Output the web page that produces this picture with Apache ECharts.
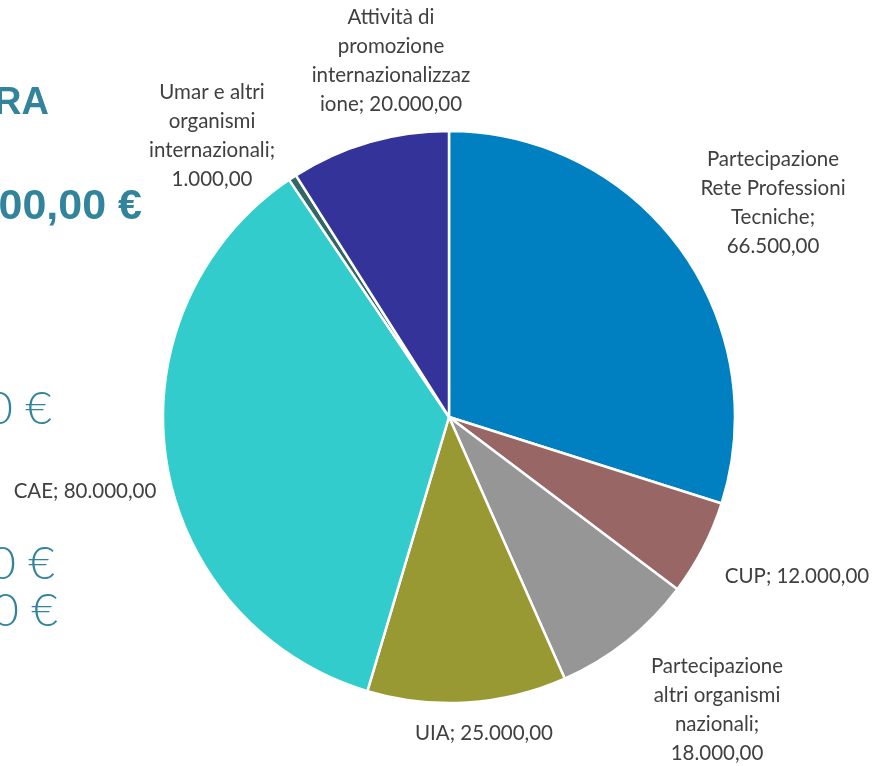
<!DOCTYPE html>
<html><head><meta charset="utf-8">
<script src="https://cdn.jsdelivr.net/npm/echarts@6/dist/echarts.min.js"></script>
<style>html,body{margin:0;padding:0;background:#fff}#c{width:876px;height:766px}</style>
</head><body><div id="c"></div>
<script>
const categories = [
  "Partecipazione Rete Professioni Tecniche",
  "CUP",
  "Partecipazione altri organismi nazionali",
  "UIA",
  "CAE",
  "Umar e altri organismi internazionali",
  "Attività di promozione internazionalizzazione"
];
const values = [66500, 12000, 18000, 25000, 80000, 1000, 20000];
// label text as wrapped in the reference ("|" marks where the value goes on its own line)
const labelNames = [
  "Partecipazione\nRete Professioni\nTecniche;|",
  "CUP; ",
  "Partecipazione\naltri organismi\nnazionali;|",
  "UIA; ",
  "CAE; ",
  "Umar e altri\norganismi\ninternazionali;|",
  "Attività di\npromozione\ninternazionalizzaz\nione; "
];
const colors = ["#0080C0", "#996666", "#969696", "#999933", "#33CCCC", "#336666", "#333399"];
const labelPos = [[773, 203], [797, 576], [717, 710], [484, 733], [85, 491], [212, 136], [391, 61]];

function fmt(v) {
  const s = Math.round(v).toString().replace(/\B(?=(\d{3})+(?!\d))/g, ".");
  return s + ",00";
}
function fullLabel(i) {
  return labelNames[i].replace("|", "\n") + fmt(values[i]);
}

const chart = echarts.init(document.getElementById('c'));
const teal = "#31849B";
chart.setOption({
  animation: false,
  graphic: [
    { type: 'text', right: 876 - 49, top: 85, style: { text: 'RA', fill: teal, font: 'bold 38px "Liberation Sans", Arial' } },
    { type: 'text', right: 876 - 142, top: 186, style: { text: '000,00 €', fill: teal, font: 'bold 43px "Liberation Sans", Arial' } },
    { type: 'text', right: 876 - 52, top: 386, style: { text: '0 €', fill: teal, font: '300 46px Lato, sans-serif' } },
    { type: 'text', right: 876 - 55, top: 541, style: { text: '0 €', fill: teal, font: '300 46px Lato, sans-serif' } },
    { type: 'text', right: 876 - 58, top: 588, style: { text: '0 €', fill: teal, font: '300 46px Lato, sans-serif' } }
  ],
  series: [{
    type: 'pie',
    center: [449, 417],
    radius: 286,
    startAngle: 90,
    clockwise: true,
    avoidLabelOverlap: false,
    itemStyle: { borderColor: '#ffffff', borderWidth: 2.5 },
    label: {
      show: true,
      position: 'outside',
      formatter: p => fullLabel(p.dataIndex),
      color: '#404040',
      fontFamily: 'Lato',
      fontSize: 20.5,
      lineHeight: 29,
      align: 'center'
    },
    labelLine: { show: false },
    labelLayout: p => ({ x: labelPos[p.dataIndex][0], y: labelPos[p.dataIndex][1], align: 'center', verticalAlign: 'middle' }),
    emphasis: { disabled: true },
    data: categories.map((c, i) => ({ name: c, value: values[i], itemStyle: { color: colors[i] } }))
  }]
});
</script></body></html>
